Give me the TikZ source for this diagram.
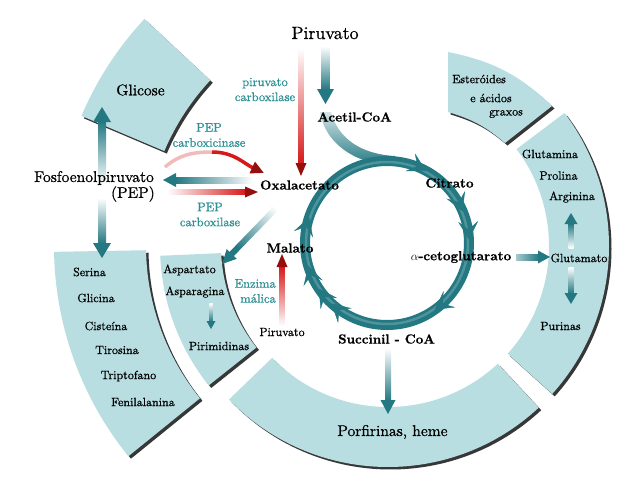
\documentclass[tikz,border=0pt]{standalone}
\usepackage{fontspec}
\setmainfont{lmroman10-regular.otf}[UprightFeatures={FakeBold=0.8}, BoldFont=lmroman10-bold.otf, BoldFeatures={FakeBold=0.6}, ItalicFont=lmroman10-italic.otf, BoldItalicFont=lmroman10-bolditalic.otf]
\usetikzlibrary{arrows.meta,decorations.markings,calc}
\definecolor{bandc}{RGB}{184,222,226}
\definecolor{shadowc}{RGB}{55,55,55}
\definecolor{tealc}{RGB}{35,120,130}
\definecolor{tealt}{RGB}{45,145,150}
\definecolor{redc}{RGB}{215,25,25}
\definecolor{dredc}{RGB}{150,15,15}

% annulus segment: #1 style, #2 cx, #3 cy, #4 a1, #5 a2, #6 rin, #7 rout
\newcommand\annseg[7]{%
  \fill[#1] ([shift={(#2,#3)}]#4:#7) arc[start angle=#4,end angle=#5,radius=#7]
    -- ([shift={(#2,#3)}]#5:#6) arc[start angle=#5,end angle=#4,radius=#6] -- cycle;}

% gradient arrow: #1 shaft colour, #2 head colour, #3 tail, #4 tip, #5 shaft width, #6 head length, #7 head width, #8 tail colour
\newcommand\garrow[8]{%
  \path let \p1=(#3), \p2=(#4) in \pgfextra{%
    \pgfmathsetmacro\tmpA{atan2((\y2)-(\y1),(\x2)-(\x1))}%
    \pgfmathsetmacro\tmpL{veclen((\x2)-(\x1),(\y2)-(\y1))}%
    \pgfmathsetmacro\tmpS{\tmpA+90}%
    \xdef\gA{\tmpA}\xdef\gL{\tmpL}\xdef\gS{\tmpS}};
  \shade[top color=#8,bottom color=#1,shading angle=\gS]
    ($(#3)+({\gA+90}:{#5/2})$) -- ($(#3)+(\gA:{\gL-#6+0.6})+({\gA+90}:{#5/2})$)
    -- ($(#3)+(\gA:{\gL-#6+0.6})+({\gA-90}:{#5/2})$) -- ($(#3)+({\gA-90}:{#5/2})$) -- cycle;
  \fill[#2] ($(#3)+(\gA:{\gL-#6})+({\gA+90}:{#7/2})$) -- (#4)
    -- ($(#3)+(\gA:{\gL-#6})+({\gA-90}:{#7/2})$) -- cycle;}

\tikzset{
  big/.style={inner sep=0pt, font=\fontsize{15.5}{18}\selectfont, text=black},
  bold/.style={inner sep=0pt, font=\fontsize{13.2}{16}\selectfont\bfseries, text=black},
  small/.style={inner sep=0pt, font=\fontsize{12}{14}\selectfont, text=black},
  enz/.style={inner sep=0pt, font=\fontsize{12.5}{15}\selectfont, text=tealt, align=center},
  cychead/.tip={Stealth[length=18pt,width=20pt,inset=8pt,color=tealc]},
}

\begin{document}
\begin{tikzpicture}[x=1pt,y=1pt]
\useasboundingbox (0,0) rectangle (640,-483);
\fill[white] (0,0) rectangle (640,-483);

% ---- outer bands ----
\annseg{shadowc}{390.5}{-248.5}{224}{313}{161}{221}
\annseg{bandc}{388}{-246}{224}{313}{161}{221}
\annseg{shadowc}{390.5}{-248.5}{-42}{37}{161}{221}
\annseg{bandc}{388}{-246}{-42}{37}{161}{221}
\annseg{shadowc}{386.5}{-248.5}{182.5}{218.5}{163}{224}
\annseg{bandc}{384}{-246}{182.5}{218.5}{163}{224}
\annseg{shadowc}{390.5}{-248.5}{181}{219}{242}{334}
\annseg{bandc}{388}{-246}{181}{219}{242}{334}
\annseg{shadowc}{390.5}{-248.5}{137}{157}{243}{333}
\annseg{bandc}{388}{-246}{137}{157}{243}{333}
\begin{scope}[shift={(2.5,-2.5)}]
  \fill[shadowc] (448,-52) to[bend left=16] (552,-106) -- (505,-143) to[bend right=12] (448,-112) -- cycle;
\end{scope}
\fill[bandc] (448,-52) to[bend left=16] (552,-106) -- (505,-143) to[bend right=12] (448,-112) -- cycle;

% ---- Krebs cycle ----
\coordinate (cyc) at (387,-243);
\shade[top color=tealc!20!white, bottom color=tealc]
  (320,-112) .. controls (325,-142) and (352,-163) .. (393,-166)
  -- (395,-156) .. controls (360,-154) and (338,-138) .. (331,-112) -- cycle;
\draw[line width=10pt, tealc] (cyc) circle[radius=82];
\draw[line width=2.5pt, white, opacity=0.2] (cyc) circle[radius=81];
\path[decorate, decoration={markings,
   mark=at position 0.079 with {\arrow{cychead}},
   mark=at position 0.187 with {\arrow{cychead}},
   mark=at position 0.243 with {\arrow{cychead}},
   mark=at position 0.401 with {\arrow{cychead}},
   mark=at position 0.618 with {\arrow{cychead}},
   mark=at position 0.656 with {\arrow{cychead}},
   mark=at position 0.705 with {\arrow{cychead}},
   mark=at position 0.801 with {\arrow{cychead}}}]
  ($(cyc)+(0,82)$) arc[start angle=90,end angle=-270,radius=82];

% ---- arrow end points ----
\coordinate (a1t) at (325.5,-46);  \coordinate (a1h) at (325.5,-104);
\coordinate (r1t) at (301,-48);    \coordinate (r1h) at (301,-176);
\coordinate (t2t) at (253,-180);   \coordinate (t2h) at (163,-180);
\coordinate (r2t) at (167,-192);   \coordinate (r2h) at (258,-192);
\coordinate (g1t) at (102,-185);   \coordinate (g1h) at (102,-107);
\coordinate (g2t) at (102,-198);   \coordinate (g2h) at (102,-258);
\coordinate (d1t) at (282,-202);   \coordinate (d1h) at (222,-264);
\coordinate (k1t) at (516,-257);   \coordinate (k1h) at (550,-257);
\coordinate (u1t) at (571,-248);   \coordinate (u1h) at (571,-213);
\coordinate (u2t) at (571,-267);   \coordinate (u2h) at (571,-304);
\coordinate (s1t) at (388,-348);   \coordinate (s1h) at (388,-414);
\coordinate (m1t) at (282,-326);   \coordinate (m1h) at (282,-254);
\coordinate (p1t) at (211,-303);   \coordinate (p1h) at (211,-329);
\coordinate (c1a) at (165,-167);   \coordinate (c1m) at (212,-152);   \coordinate (c1b) at (264,-173);

\garrow{tealc}{tealc}{a1t}{a1h}{8}{15}{17}{white}
\garrow{redc}{dredc}{r1t}{r1h}{5}{13}{11}{white}
\garrow{tealc}{tealc}{t2t}{t2h}{6}{13}{14}{white}
\garrow{redc}{dredc}{r2t}{r2h}{5}{13}{11}{white}
\garrow{tealc}{tealc}{g1t}{g1h}{8}{15}{18}{white}
\garrow{tealc}{tealc}{g2t}{g2h}{8}{15}{18}{white}
\garrow{tealc}{tealc}{d1t}{d1h}{6}{14}{14}{white}
\garrow{tealc}{tealc}{k1t}{k1h}{6}{12}{13}{tealc!40!white}
\garrow{tealc}{tealc}{u1t}{u1h}{5}{11}{13}{white}
\garrow{tealc}{tealc}{u2t}{u2h}{5}{11}{13}{white}
\garrow{tealc}{tealc}{s1t}{s1h}{6}{14}{15}{white}
\garrow{redc}{dredc}{m1t}{m1h}{5}{13}{11}{white}
\garrow{tealc}{tealc}{p1t}{p1h}{3.5}{8}{9}{white}
\draw[line width=3.5pt, redc!30!white] (c1a) to[out=40,in=180] (c1m);
\draw[line width=3.5pt, redc, -{Triangle[length=13pt,width=12pt,color=dredc]}] (c1m) to[out=0,in=155] (c1b);

% ---- labels ----
\node[inner sep=0pt, font=\fontsize{17.8}{20}\selectfont] (pyr) at (325,-33) {Piruvato};
\node[big] (glic) at (140.5,-90) {Glicose};
\node[big] (fosfo) at (94,-178) {Fosfoenolpiruvato};
\node[big, anchor=east] (pep) at (155,-194) {(PEP)};
\node[bold] (oxa) at (299.5,-185) {Oxalacetato};
\node[bold] (acet) at (354.5,-117) {Acetil-CoA};
\node[bold] (cit) at (449.5,-183) {Citrato};
\node[bold] (akg) at (461,-257) {$\alpha$-cetoglutarato};
\node[bold] (succ) at (386.5,-339) {Succinil - CoA};
\node[bold] (mal) at (290,-248) {Malato};
\node[small] (glu) at (579,-258) {Glutamato};
\node[small] (pur) at (560.5,-326) {Purinas};
\node[small] (gln) at (550,-154) {Glutamina};
\node[small] (pro) at (558.5,-175.5) {Prolina};
\node[small] (arg) at (572,-197) {Arginina};
\node[small] (est) at (479,-79) {Esteróides};
\node[small] (acid) at (491,-98) {e ácidos};
\node[small] (grax) at (506,-114) {graxos};
\node[small] (ser) at (89.5,-272) {Serina};
\node[small] (gly) at (96,-298) {Glicina};
\node[small] (cys) at (106,-326) {Cisteína};
\node[small] (tyr) at (117,-350) {Tirosina};
\node[small] (trp) at (128.5,-376) {Triptofano};
\node[small] (phe) at (143,-402) {Fenilalanina};
\node[small] (asp) at (189.5,-270) {Aspartato};
\node[small] (asn) at (195,-292) {Asparagina};
\node[small] (pyrim) at (219,-346) {Pirimidinas};
\node[enz, anchor=east, align=right] (enzm) at (276,-291) {Enzima\\málica};
\node[small] (pyr2) at (282,-332) {Piruvato};
\node[big] (porf) at (392.5,-432) {Porfirinas, heme};
\node[enz] (pc) at (265,-89.5) {piruvato\\carboxilase};
\node[enz] (pepck) at (209,-135) {PEP\\carboxicinase};
\node[enz] (pepc) at (210,-214.5) {PEP\\carboxilase};
\end{tikzpicture}
\end{document}
